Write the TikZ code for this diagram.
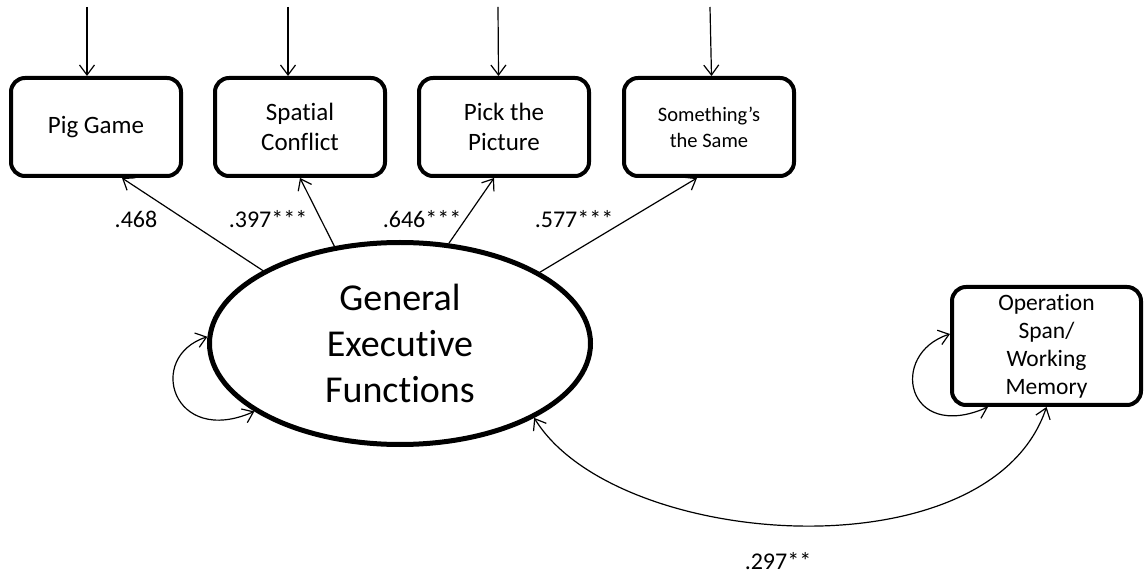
\documentclass[tikz,border=0pt]{standalone}
\usepackage{fontspec}
\setmainfont{Carlito}[Ligatures=NoCommon]
\usetikzlibrary{shapes.geometric, arrows.meta, positioning}

\tikzset{
  obs/.style={draw, line width=4pt, rounded corners=14pt, minimum width=170pt, minimum height=98pt, inner sep=0pt, align=center, font=\fontsize{25}{30}\selectfont},
  lat/.style={draw, ellipse, line width=5pt, minimum width=381pt, minimum height=202pt, inner sep=0pt, align=center, font=\fontsize{38}{46}\selectfont},
  load/.style={-{Straight Barb[length=10pt,width=15pt]}, line width=1.2pt},
  cov/.style={{Straight Barb[length=10pt,width=15pt]}-{Straight Barb[length=10pt,width=15pt]}, line width=1.2pt},
  coef/.style={inner sep=0pt, font=\fontsize{24}{28}\selectfont}
}

\begin{document}
\begin{tikzpicture}[x=1pt,y=-1pt]
\useasboundingbox (0,0) rectangle (1144,577);

% observed tasks
\node[obs] (pig) at (96,127) {Pig Game};
\node[obs, right=30pt of pig] (spat) {Spatial\\Conflict};
\node[obs, right=30pt of spat] (pick) {Pick the\\Picture};
\node[obs, right=31pt of pick, font=\fontsize{20.5}{26}\selectfont] (same) {Something’s\\the Same};
\node[obs, minimum width=189pt, minimum height=118pt, font=\fontsize{23.5}{28}\selectfont] (wm) at (1046.5,346) {Operation\\Span/\\Working\\Memory};

% latent factor
\node[lat] (gef) at (400,343.5) {General\\Executive\\Functions};

% error terms
\coordinate (epig) at (87,7);
\coordinate (espat) at (288,7);
\coordinate (epick) at (498,7);
\coordinate (esame) at (710,7);
\draw[load] (epig) -- ([xshift=-9pt]pig.north);
\draw[load] (espat) -- ([xshift=-12pt]spat.north);
\draw[load] (epick) -- ([xshift=-5.5pt]pick.north);
\draw[load] (esame) -- ([xshift=2.5pt]same.north);

% loadings
\draw[load] (gef.152) -- ([xshift=26pt]pig.south);
\draw[load] (gef.124.5) -- (spat.south);
\draw[load] (gef.64.5) -- ([xshift=-10pt]pick.south);
\draw[load] (gef.27.4) -- ([xshift=-12pt]same.south);
\node[coef] (lpig) at (136,219) {.468};
\node[coef] (lspat) at (268,219) {.397***};
\node[coef] (lpick) at (422,219) {.646***};
\node[coef] (lsame) at (574,219) {.577***};

% variances
\draw[cov] (gef.178.4) .. controls +(-62,20) and +(-82,36) .. (gef.-155.5);
\draw[cov] ([yshift=12pt]wm.west) .. controls +(-62,20) and +(-82,36) .. ([xshift=-58.5pt]wm.south);

% covariance
\draw[cov] (gef.-29.8) .. controls +(81,132) and +(-57,170) .. (wm.south);
\node[coef] (lcov) at (778,561) {.297**};
\end{tikzpicture}
\end{document}
